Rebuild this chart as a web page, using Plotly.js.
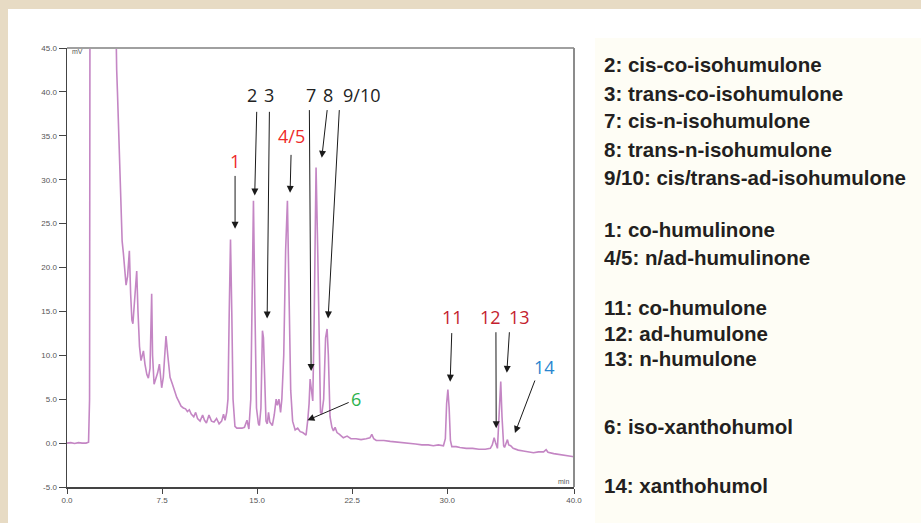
<!DOCTYPE html>
<html>
<head>
<meta charset="utf-8">
<script src="https://cdn.plot.ly/plotly-3.0.1.min.js"></script>
<style>
  html, body { margin: 0; padding: 0; background: #ffffff; }
  #chart { width: 921px; height: 523px; }
</style>
</head>
<body>
<div id="chart"></div>
<script>
// ---- Data (retention time in min, detector signal in mV) ----
const timeMin = [
  0.0, 0.3, 0.6, 0.9, 1.2, 1.5, 1.7, 1.78, 1.82, 2.5, 3.5, 3.79, 3.85, 3.92, 3.98, 4.05,
  4.13, 4.2, 4.28, 4.35, 4.45, 4.55, 4.66, 4.78, 4.92, 5.02, 5.12, 5.2, 5.3, 5.5,
  5.6, 5.72, 5.84, 5.95, 6.03, 6.15, 6.3, 6.42, 6.55, 6.68, 6.75, 6.87, 7.0, 7.15,
  7.29, 7.4, 7.47, 7.6, 7.81, 7.95, 8.13, 8.3, 8.5, 8.66, 8.8, 9.0, 9.18, 9.35,
  9.5, 9.65, 9.8, 10.0, 10.15, 10.3, 10.5, 10.7, 10.85, 11.0, 11.2, 11.4, 11.6, 11.8,
  12.0, 12.2, 12.35, 12.47, 12.6, 12.7, 12.8, 12.9, 13.0, 13.1, 13.25, 13.4, 13.6, 13.8,
  14.0, 14.2, 14.35, 14.5, 14.6, 14.71, 14.82, 14.95, 15.1, 15.18, 15.3, 15.42, 15.5, 15.6,
  15.7, 15.8, 15.9, 16.0, 16.2, 16.35, 16.5, 16.6, 16.72, 16.85, 16.95, 17.1, 17.25, 17.39,
  17.5, 17.65, 17.8, 18.0, 18.2, 18.4, 18.6, 18.86, 19.0, 19.1, 19.18, 19.3, 19.39, 19.5,
  19.65, 19.78, 19.9, 20.0, 20.1, 20.25, 20.4, 20.52, 20.62, 20.75, 20.9, 21.02, 21.15, 21.3,
  21.5, 21.8, 22.1, 22.4, 22.8, 23.2, 23.6, 23.9, 24.05, 24.2, 24.4, 25.0, 25.5, 26.3,
  27.0, 27.5, 28.0, 28.5, 28.9, 29.3, 29.7, 29.85, 29.95, 30.05, 30.15, 30.25, 30.36, 30.7,
  31.0, 31.5, 32.0, 32.5, 33.0, 33.4, 33.55, 33.7, 33.8, 33.96, 34.05, 34.15, 34.22, 34.32,
  34.45, 34.52, 34.65, 34.75, 34.85, 35.0, 35.2, 35.6, 36.0, 36.4, 36.8, 37.2, 37.6, 37.8,
  37.95, 38.4, 38.8, 39.2, 39.6, 40.0
];
const signalMv = [
  0.0, 0.05, -0.05, 0.05, 0.0, 0.0, 0.1, 5, 60, 90, 80, 50, 45, 42.5, 40, 37,
  33, 29, 25, 23, 21.6, 19.5, 18.0, 19, 21.9, 17, 14, 13.6, 15.5, 19.6,
  15, 11, 9.4, 10.2, 10.5, 9, 7.8, 7.4, 8.5, 17.0, 10, 6.7, 7.2, 8.0,
  9.0, 7.2, 6.3, 7.5, 12.2, 10, 7.5, 6.8, 5.8, 5.2, 4.8, 4.2, 4.0, 3.9,
  3.6, 3.8, 3.3, 3.0, 3.5, 2.8, 2.5, 3.2, 2.6, 2.3, 3.2, 2.5, 2.4, 2.8,
  2.2, 2.5, 3.3, 2.6, 3.5, 5, 15, 23.2, 15, 5, 1.9, 1.7, 1.7, 1.7,
  1.8, 2.6, 1.6, 5, 16, 27.6, 16, 4, 2.2, 2.0, 4, 12.8, 12.0, 6,
  2.5, 2.2, 3.5, 2.4, 2.0, 3.2, 5.0, 4.3, 5.0, 3.5, 5, 10, 22, 27.6,
  20, 6, 2.5, 1.5, 1.7, 1.3, 1.2, 0.9, 2.7, 4.5, 7.3, 5.5, 4.8, 14,
  31.4, 22, 10, 3.5, 3.3, 5, 12, 13.0, 10, 3, 1.8, 1.4, 1.8, 1.2,
  1.0, 0.6, 0.8, 0.5, 0.5, 0.4, 0.5, 0.6, 1.0, 0.5, 0.3, 0.3, 0.2, 0.1,
  0.0, -0.1, -0.2, -0.2, -0.3, -0.2, -0.3, 0.5, 4.5, 6.1, 4, 0.3, -0.4, -0.4,
  -0.5, -0.6, -0.6, -0.7, -0.7, -0.6, -0.2, 0.6, 0.1, -0.6, 2, 6.5, 7.0, 3,
  -0.3, -0.5, 0.1, 0.4, -0.2, -0.3, -0.6, -0.8, -0.9, -1.0, -1.1, -1.0, -1.0, -0.75,
  -1.05, -1.2, -1.3, -1.4, -1.5, -1.55
];

// Axis ticks
const xTickVals = [0, 7.5, 15, 22.5, 30, 40];
const xTickText = ['0.0', '7.5', '15.0', '22.5', '30.0', '40.0'];
const yTickVals = [-5, 0, 5, 10, 15, 20, 25, 30, 35, 40, 45];
const yTickText = ['-5.0', '0.0', '5.0', '10.0', '15.0', '20.0', '25.0', '30.0', '35.0', '40.0', '45.0'];

// Peak labels: text, label position (time, mV), arrow tail (time, mV), arrow head (time, mV), colour group
const peakLabels = ['1', '2', '3', '4/5', '6', '7', '8', '9/10', '11', '12', '13', '14'];
const labelTime  = [13.26, 14.63, 15.94, 17.73, 22.81, 19.23, 20.62, 23.26, 30.41, 33.44, 35.67, 37.65];
const labelMv    = [32.1, 39.6, 39.6, 35.0, 5.0, 39.6, 39.6, 39.6, 14.4, 14.4, 14.4, 8.7];
const tailTime   = [13.26, 14.97, 15.97, 17.68, 22.34, 19.12, 20.54, 21.49, 30.36, 33.84, 34.91, 36.96];
const tailMv     = [30.6, 37.9, 37.9, 33.0, 4.7, 38.1, 38.1, 38.1, 12.7, 12.8, 12.8, 7.3];
const headTime   = [13.26, 14.81, 15.79, 17.6, 18.97, 19.26, 20.1, 20.6, 30.23, 33.86, 34.7, 35.34];
const headMv     = [24.4, 28.2, 14.2, 28.5, 2.6, 8.2, 32.5, 14.2, 7.0, 1.7, 8.0, 1.14];
const labelGroup = ['humulinone', 'iso', 'iso', 'humulinone', 'isoxan', 'iso', 'iso', 'iso', 'humulone', 'humulone', 'humulone', 'xan'];

// Key text (right panel)
const keyLines = [
  '2: cis-co-isohumulone',
  '3: trans-co-isohumulone',
  '7: cis-n-isohumulone',
  '8: trans-n-isohumulone',
  '9/10: cis/trans-ad-isohumulone',
  '1: co-humulinone',
  '4/5: n/ad-humulinone',
  '11: co-humulone',
  '12: ad-humulone',
  '13: n-humulone',
  '6: iso-xanthohumol',
  '14: xanthohumol'
];
const keyLineY = [65, 93, 121, 149, 177, 229, 257, 307, 333, 358, 426, 485];

// ---- Styles ----
const groupColor = {
  humulinone: '#ee2a2a',
  iso: '#222222',
  isoxan: '#2bb24c',
  humulone: '#c41e2e',
  xan: '#2a86cf'
};

const W = 921, H = 523;
const plotL = 67, plotR = 574, plotT = 48, plotB = 487;
const px2x = p => (p - plotL) / (plotR - plotL);
const py2y = p => (plotB - p) / (plotB - plotT);

const annotations = [];
for (let i = 0; i < peakLabels.length; i++) {
  annotations.push({
    x: headTime[i], y: headMv[i], xref: 'x', yref: 'y',
    ax: tailTime[i], ay: tailMv[i], axref: 'x', ayref: 'y',
    text: '', showarrow: true, arrowhead: 2, arrowsize: 1.4, arrowwidth: 1,
    arrowcolor: '#1a1a1a', standoff: 0, startstandoff: 0
  });
  annotations.push({
    x: labelTime[i], y: labelMv[i], xref: 'x', yref: 'y',
    text: peakLabels[i], showarrow: false, xanchor: 'center', yanchor: 'middle',
    font: { family: 'Open Sans, sans-serif', size: 18, color: groupColor[labelGroup[i]] }
  });
}
for (let i = 0; i < keyLines.length; i++) {
  annotations.push({
    x: px2x(602), y: py2y(keyLineY[i]), xref: 'paper', yref: 'paper',
    text: keyLines[i], showarrow: false, xanchor: 'left', yanchor: 'middle',
    font: { family: 'Liberation Sans, Arial, sans-serif', size: 20.5, color: '#231f20', weight: 'bold' }
  });
}
annotations.push({
  x: px2x(70), y: py2y(52), xref: 'paper', yref: 'paper', text: 'mV', showarrow: false,
  xanchor: 'left', yanchor: 'middle', font: { family: 'Liberation Sans, Arial', size: 7, color: '#555' }
});
annotations.push({
  x: px2x(571), y: py2y(481), xref: 'paper', yref: 'paper', text: 'min', showarrow: false,
  xanchor: 'right', yanchor: 'middle', font: { family: 'Liberation Sans, Arial', size: 7, color: '#555' }
});

const shapes = [
  // beige frame strips
  { type: 'rect', xref: 'paper', yref: 'paper', x0: px2x(0), x1: px2x(W), y0: py2y(9), y1: py2y(0),
    fillcolor: '#e7dbc4', line: { width: 0 }, layer: 'below' },
  { type: 'rect', xref: 'paper', yref: 'paper', x0: px2x(0), x1: px2x(8), y0: py2y(H), y1: py2y(0),
    fillcolor: '#e7dbc4', line: { width: 0 }, layer: 'below' },
  // cream key panel
  { type: 'rect', xref: 'paper', yref: 'paper', x0: px2x(595), x1: px2x(W), y0: py2y(H), y1: py2y(38),
    fillcolor: '#fefdf5', line: { width: 0 }, layer: 'below' },
  // top and right frame lines
  { type: 'line', xref: 'paper', yref: 'paper', x0: 0, x1: 1, y0: 1, y1: 1,
    line: { color: '#a0a0a0', width: 2 } },
  { type: 'line', xref: 'paper', yref: 'paper', x0: 1, x1: 1, y0: 0, y1: 1,
    line: { color: '#8c8c8c', width: 2 } }
];

const trace = {
  x: timeMin, y: signalMv, type: 'scatter', mode: 'lines',
  line: { color: '#c486c4', width: 1.6 }, hoverinfo: 'skip'
};

const tickFont = { family: 'Liberation Sans, Arial, sans-serif', size: 8, color: '#555' };

const layout = {
  width: W, height: H,
  margin: { l: plotL, r: W - plotR, t: plotT, b: H - plotB, pad: 0 },
  paper_bgcolor: '#ffffff', plot_bgcolor: '#ffffff',
  showlegend: false,
  xaxis: {
    range: [0, 40], tickvals: xTickVals, ticktext: xTickText,
    showgrid: false, zeroline: false, showline: true, linecolor: '#444', linewidth: 1.5,
    ticks: 'outside', ticklen: 5, tickcolor: '#444', tickwidth: 1, tickfont: tickFont
  },
  yaxis: {
    range: [-5, 45], tickvals: yTickVals, ticktext: yTickText,
    showgrid: false, zeroline: false, showline: true, linecolor: '#444', linewidth: 1.5,
    ticks: 'outside', ticklen: 7, tickcolor: '#444', tickwidth: 1, tickfont: tickFont
  },
  annotations: annotations,
  shapes: shapes
};

Plotly.newPlot('chart', [trace], layout, { displayModeBar: false, staticPlot: true });
</script>
</body>
</html>
